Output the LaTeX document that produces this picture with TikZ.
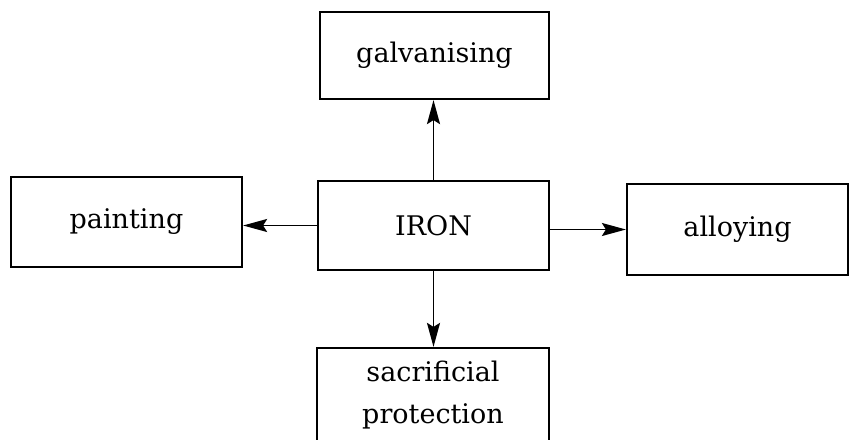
\documentclass[tikz,border=0pt]{standalone}
\usepackage{fontspec}
\setmainfont{DejaVu Serif}
\usetikzlibrary{arrows.meta}

\tikzset{
  box/.style={draw, line width=2.2pt, inner sep=0pt, align=center,
    font=\fontsize{27}{42}\selectfont},
  arr/.style={line width=1.8pt, -{Stealth[length=24pt, width=13pt, inset=4pt]}}
}

\begin{document}
\begin{tikzpicture}[x=1pt, y=-1pt]
  \useasboundingbox (0,0) rectangle (851,439);
  \clip (0,0) rectangle (851,439);
  \node[box, minimum width=231pt, minimum height=89pt] (iron) at (433.5,225.5) {IRON};
  \node[box, minimum width=229pt, minimum height=87pt] (galv) at (434.5,55.5) {galvanising};
  \node[box, minimum width=231pt, minimum height=90pt] (paint) at (126.5,222) {painting};
  \node[box, minimum width=221pt, minimum height=91pt] (alloy) at (737.5,229.5) {alloying};
  \node[box, minimum width=232pt, minimum height=94pt] (sacr) at (433,395) {sacrificial\\protection};
  \draw[arr] (iron.north) -- (iron.north |- galv.south);
  \draw[arr] (iron.west) -- (iron.west -| paint.east);
  \draw[arr] (iron.east |- alloy.west) -- (alloy.west);
  \draw[arr] (iron.south) -- (iron.south |- sacr.north);
\end{tikzpicture}
\end{document}
